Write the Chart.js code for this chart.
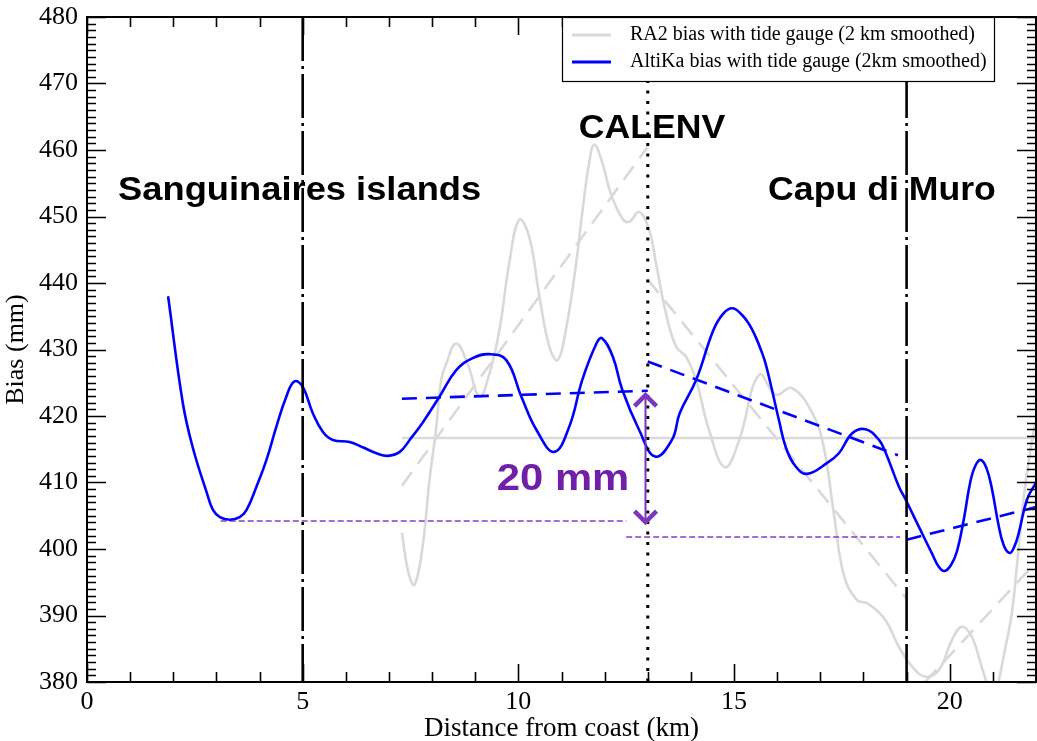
<!DOCTYPE html>
<html>
<head>
<meta charset="utf-8">
<title>Bias versus distance from coast</title>
<script src="https://cdn.jsdelivr.net/npm/chart.js@4.4.1/dist/chart.umd.min.js"></script>
<style>
  html, body { margin: 0; padding: 0; background: #fff; }
  #wrap { width: 1037px; height: 741px; }
</style>
</head>
<body>
<div id="wrap"><canvas id="biasChart" width="1037" height="741"></canvas></div>
<script>
// AltiKa bias with tide gauge, 2 km smoothed (km, mm)
const altikaDist = [1.88, 2.22, 2.45, 2.78, 2.92, 3.08, 3.31, 3.54, 3.70, 3.93, 4.16, 4.39, 4.62, 4.81, 5.0, 5.23, 5.47, 5.7,
  6.09, 6.39, 6.71, 6.97, 7.25, 7.48, 7.78, 8.17, 8.56, 8.94, 9.33, 9.72, 10.07, 10.42, 10.83, 11.18,
  11.48, 11.81, 11.94, 12.19, 12.41, 12.8, 13.17, 13.56, 13.74, 14.12, 14.52, 14.75, 14.96, 15.17, 15.35,
  15.5, 15.62, 15.73, 15.88, 16.04, 16.2, 16.43, 16.69, 17.15, 17.43, 17.74, 18.05, 18.36, 18.52, 18.82,
  18.98, 19.28, 19.59, 19.75, 19.88, 20.03, 20.17, 20.33, 20.48, 20.6, 20.72, 20.85, 20.98, 21.12, 21.25,
  21.39, 21.5, 21.6, 21.79, 22.0];
const altikaBias = [438.0, 422.0, 415.3, 408.4, 405.9, 404.8, 404.4, 404.8, 405.9, 409.4, 413.4, 418.4, 422.9, 425.2, 424.4, 420.5, 417.6, 416.4,
  416.1, 415.3, 414.4, 414.0, 414.6, 416.4, 419.0, 422.9, 426.9, 428.7, 429.3, 428.4, 422.9, 417.9, 414.6, 418.4,
  425.4, 430.9, 431.7, 428.9, 423.9, 417.9, 413.9, 416.4, 420.4, 425.4, 432.9, 435.4, 436.2, 435.3, 433.8,
  431.9, 430.0, 427.9, 423.9, 419.4, 415.3, 412.4, 411.3, 412.9, 414.4, 417.4, 418.0, 416.4, 414.4, 409.4,
  407.4, 403.4, 399.3, 397.3, 396.7, 397.6, 399.7, 404.6, 410.2, 412.6, 413.4, 412.2, 409.0, 404.0, 400.6,
  399.4, 400.4, 402.4, 407.4, 410.0];

// RA2 bias with tide gauge, 2 km smoothed
const ra2Dist = [7.3, 7.45, 7.59, 7.78, 7.94, 8.09, 8.21, 8.33, 8.56, 8.82, 9.1, 9.33, 9.56, 9.79, 10.02,
  10.25, 10.49, 10.72, 10.91, 11.1, 11.34, 11.48, 11.64, 11.76, 11.95, 12.14, 12.41, 12.57, 12.8, 13.03,
  13.19, 13.42, 13.66, 13.89, 14.12, 14.42, 14.79, 15.12, 15.58, 15.97, 16.34, 16.81, 17.08, 17.32, 17.55,
  17.85, 18.1, 18.51, 18.82, 19.13, 19.44, 19.75, 20.05, 20.28, 20.51, 20.74, 20.85, 21.0, 21.13, 21.3,
  21.44, 21.55, 21.75, 21.96, 22.0];
const ra2Bias = [402.4, 396.5, 394.6, 400.4, 410.4, 417.9, 425.4, 427.9, 430.9, 427.9, 422.9, 426.4, 432.9, 443.0, 449.5,
  447.0, 437.9, 430.4, 428.4, 432.9, 443.0, 450.5, 458.0, 460.8, 458.0, 453.5, 449.7, 449.2, 450.7, 448.0,
  443.0, 435.5, 430.4, 428.9, 425.4, 417.9, 412.3, 416.4, 426.2, 423.2, 424.2, 420.5, 415.3, 405.0, 396.0,
  392.3, 391.8, 389.3, 385.3, 382.3, 380.8, 381.8, 386.3, 388.3, 386.8, 382.3, 380.0, 376.5, 380.0, 385.5,
  390.3, 397.0, 409.5, 418.4, 419.0];

// mean RA2 level
const ra2MeanDist = [7.3, 22.0];
const ra2MeanBias = [416.7, 416.7];

// linear trends per segment
const ra2TrendDist = [[7.3, 13.0], [13.0, 19.0], [19.0, 22.0]];
const ra2TrendBias = [[409.5, 460.5], [440.5, 392.5], [377.0, 398.0]];
const altikaTrendDist = [[7.3, 13.0], [13.0, 18.8], [19.0, 22.0]];
const altikaTrendBias = [[422.6, 423.8], [428.2, 414.1], [401.4, 406.3]];

// reference levels used for the 20 mm step
const refLevelDist = [[3.1, 12.5], [12.5, 18.85]];
const refLevelBias = [[404.2, 404.2], [401.8, 401.8]];
const stepDist = 12.93;
const stepBias = [423.6, 403.6];
const stepLabel = '20 mm';

// sites along the track
const siteDist = [5, 13, 19];
const siteNames = ['Sanguinaires islands', 'CALENV', 'Capu di Muro'];

const xTicks = [0, 5, 10, 15, 20];
const yTicks = [380, 390, 400, 410, 420, 430, 440, 450, 460, 470, 480];

const legendNames = ['RA2 bias with tide gauge (2 km smoothed)', 'AltiKa bias with tide gauge (2km smoothed)'];

const BLUE = '#0000ff';
const GREY = '#d9d9d9';
const PURPLE = '#8040c0';

const toPoints = (xs, ys) => xs.map((x, i) => ({ x: x, y: ys[i] }));

function lineSet(data, color, width, dash, order, smooth) {
  return {
    data: data,
    borderColor: color,
    borderWidth: width,
    borderDash: dash || [],
    pointRadius: 0,
    showLine: true,
    fill: false,
    order: order,
    tension: smooth ? 0.42 : 0
  };
}

const datasets = [];
datasets.push(lineSet(toPoints(ra2Dist, ra2Bias), GREY, 2.6, null, 10, true));
datasets.push(lineSet(toPoints(ra2MeanDist, ra2MeanBias), GREY, 2.6, null, 10));
ra2TrendDist.forEach((d, i) => datasets.push(lineSet(toPoints(d, ra2TrendBias[i]), GREY, 2.6, [17, 10], 9)));
refLevelDist.forEach((d, i) => datasets.push(lineSet(toPoints(d, refLevelBias[i]), PURPLE, 1.6, [6, 3], 8)));
datasets.push(lineSet(toPoints(altikaDist, altikaBias), BLUE, 2.6, null, 5, true));
altikaTrendDist.forEach((d, i) => datasets.push(lineSet(toPoints(d, altikaTrendBias[i]), BLUE, 2.6, [15, 9], 6)));
siteDist.forEach((d, i) => {
  const dash = i === 1 ? [3, 7.5] : [44, 5, 3, 5];
  datasets.push(lineSet(toPoints([d, d], [480, 380]), '#000', i === 1 ? 3 : 2.6, dash, 1));
});

// text drawn a little wider than the font's own proportions
function wideText(ctx, text, px, py, stretch) {
  ctx.save();
  ctx.translate(px, py);
  ctx.scale(stretch, 1);
  ctx.fillText(text, 0, 0);
  ctx.restore();
}

// site names, step arrow, frame with inward ticks and the legend box
const notes = {
  id: 'notes',
  beforeDatasetsDraw(chart) {
    const { ctx, scales: { x, y } } = chart;
    ctx.save();
    ctx.fillStyle = '#000';
    ctx.font = 'bold 33px "Liberation Sans", Arial, sans-serif';
    ctx.textBaseline = 'middle';
    ctx.textAlign = 'left';
    const anchors = [[0.72, 453.8], [11.4, 463.2], [15.79, 453.8]];
    const stretch = [1.1, 1.08, 1.08];
    siteNames.forEach((name, i) => {
      wideText(ctx, name, x.getPixelForValue(anchors[i][0]), y.getPixelForValue(anchors[i][1]), stretch[i]);
    });
    ctx.fillStyle = '#7020a8';
    ctx.font = 'bold 37px "Liberation Sans", Arial, sans-serif';
    wideText(ctx, stepLabel, x.getPixelForValue(9.5), y.getPixelForValue(410.4), 1.13);
    ctx.restore();
  },
  afterDatasetsDraw(chart) {
    const { ctx, chartArea: a, scales: { x, y } } = chart;
    ctx.save();

    // double arrow between the two reference levels
    const ax = Math.round(x.getPixelForValue(stepDist)) + 0.5;
    const yTop = y.getPixelForValue(stepBias[0]);
    const yBot = y.getPixelForValue(stepBias[1]);
    ctx.strokeStyle = '#7b38bd';
    ctx.lineWidth = 2;
    ctx.beginPath();
    ctx.moveTo(ax, yTop + 2);
    ctx.lineTo(ax, yBot - 2);
    ctx.stroke();
    ctx.lineWidth = 4.5;
    ctx.lineJoin = 'miter';
    ctx.beginPath();
    ctx.moveTo(ax - 11, yTop + 14);
    ctx.lineTo(ax, yTop + 3);
    ctx.lineTo(ax + 11, yTop + 14);
    ctx.moveTo(ax - 11, yBot - 14);
    ctx.lineTo(ax, yBot - 3);
    ctx.lineTo(ax + 11, yBot - 14);
    ctx.stroke();

    // inward ticks on all four sides
    ctx.strokeStyle = '#000';
    ctx.lineWidth = 1.6;
    ctx.beginPath();
    for (let v = 0; v <= 22; v++) {
      const px = Math.round(x.getPixelForValue(v)) + 0.5;
      const len = v % 5 === 0 ? 18 : 10;
      ctx.moveTo(px, a.bottom); ctx.lineTo(px, a.bottom - len);
      ctx.moveTo(px, a.top); ctx.lineTo(px, a.top + len);
    }
    for (let v = 380; v <= 480; v++) {
      const py = Math.round(y.getPixelForValue(v)) + 0.5;
      const len = v % 10 === 0 ? 19 : 9;
      ctx.moveTo(a.left, py); ctx.lineTo(a.left + len, py);
      ctx.moveTo(a.right, py); ctx.lineTo(a.right - len, py);
    }
    ctx.stroke();
    ctx.lineWidth = 2;
    ctx.strokeRect(a.left, a.top, a.right - a.left, a.bottom - a.top);

    // legend
    const lx = a.left + 475, ly = a.top, lw = 432, lh = 64;
    ctx.fillStyle = '#fff';
    ctx.fillRect(lx, ly, lw, lh);
    ctx.lineWidth = 1.2;
    ctx.strokeRect(lx + 0.5, ly + 0.5, lw, lh);
    const rows = [[GREY, 18], [BLUE, 45]];
    ctx.font = '20px "Liberation Serif", "Times New Roman", serif';
    ctx.textBaseline = 'middle';
    ctx.textAlign = 'left';
    rows.forEach((r, i) => {
      ctx.strokeStyle = r[0];
      ctx.lineWidth = 3;
      ctx.beginPath();
      ctx.moveTo(lx + 10, ly + r[1]);
      ctx.lineTo(lx + 49, ly + r[1]);
      ctx.stroke();
      ctx.fillStyle = '#000';
      ctx.fillText(legendNames[i], lx + 68, ly + r[1]);
    });
    ctx.restore();
  }
};

const serif = '"Liberation Serif", "Times New Roman", serif';

new Chart(document.getElementById('biasChart'), {
  type: 'scatter',
  data: { datasets: datasets },
  options: {
    responsive: false,
    animation: false,
    layout: { padding: { top: 17, right: 1, left: 0, bottom: 0 } },
    plugins: { legend: { display: false }, tooltip: { enabled: false } },
    scales: {
      x: {
        type: 'linear',
        min: 0,
        max: 22,
        afterFit: s => { s.height = 59; s.paddingLeft = 0; s.paddingRight = 0; },
        afterBuildTicks: s => { s.ticks = xTicks.map(v => ({ value: v })); },
        grid: { display: false, drawTicks: false },
        border: { display: false },
        ticks: { color: '#000', padding: 5, maxRotation: 0, font: { family: serif, size: 26 } },
        title: {
          display: true, text: 'Distance from coast (km)', color: '#000',
          font: { family: serif, size: 27 }, padding: { top: 0, bottom: -4 }
        }
      },
      y: {
        min: 380,
        max: 480,
        afterFit: s => { s.width = 87; s.paddingTop = 0; s.paddingBottom = 0; },
        afterBuildTicks: s => { s.ticks = yTicks.map(v => ({ value: v })); },
        grid: { display: false, drawTicks: false },
        border: { display: false },
        ticks: { color: '#000', padding: 9, font: { family: serif, size: 26 } },
        title: {
          display: true, text: 'Bias (mm)', color: '#000',
          font: { family: serif, size: 26 }, padding: { top: 1, bottom: 0 }
        }
      }
    }
  },
  plugins: [notes]
});
</script>
</body>
</html>
